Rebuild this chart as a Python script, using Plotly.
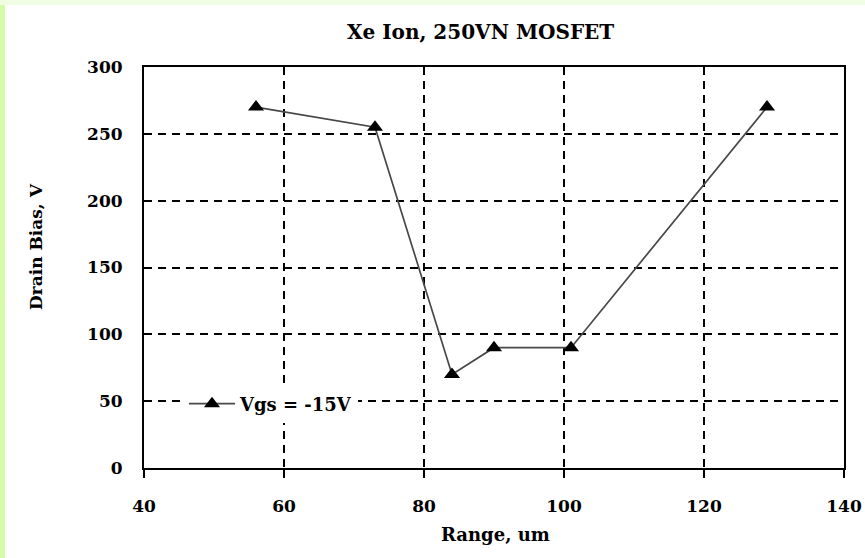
import plotly.graph_objects as go

range_um = [56, 73, 84, 90, 101, 129]
drain_bias_v = [270, 255, 70, 90, 90, 270]
series_name = "Vgs = -15V"
title_text = "Xe Ion, 250VN MOSFET"
x_title = "Range, um"
y_title = "Drain Bias, V"
x_ticks = [40, 60, 80, 100, 120, 140]
y_ticks = [0, 50, 100, 150, 200, 250, 300]

FONT = "DejaVu Serif"
W, H = 865, 558
L, R, T, B = 144, 21, 67, 90
PW = W - L - R
PH = H - T - B

fig = go.Figure()
fig.add_trace(go.Scatter(
    x=range_um, y=drain_bias_v, mode="lines+markers", name=f"<b>{series_name}</b>",
    line=dict(color="#484848", width=1.7),
    marker=dict(symbol="triangle-up", size=14, color="black"),
))

def px_x(p):
    return (p - L) / PW

def px_y(p):
    return (H - B - p) / PH

fig.update_layout(
    width=W, height=H,
    margin=dict(l=L, r=R, t=T, b=B, autoexpand=False),
    paper_bgcolor="white", plot_bgcolor="white",
    showlegend=True,
    legend=dict(x=px_x(184), y=px_y(404), xanchor="left", yanchor="middle",
                bgcolor="white", font=dict(family=FONT, size=18, color="black"),
                borderwidth=0, itemwidth=46),
    font=dict(family=FONT, color="black"),
)
fig.update_xaxes(
    range=[40, 140], tickvals=x_ticks, ticktext=[f"<b>{v}</b>" for v in x_ticks],
    showline=True, linecolor="black", linewidth=2, mirror=True,
    ticks="outside", ticklen=8, tickwidth=2, tickcolor="black",
    showgrid=True, gridcolor="black", gridwidth=1.5, griddash="8px,6px",
    zeroline=False, tickfont=dict(family=FONT, size=17, color="black"),
    ticklabelstandoff=14, automargin=False,
)
fig.update_yaxes(
    range=[0, 300], tickvals=y_ticks, ticktext=[f"<b>{v}</b>" for v in y_ticks],
    showline=True, linecolor="black", linewidth=2, mirror=True,
    ticks="inside", ticklen=6, tickwidth=2, tickcolor="black",
    showgrid=True, gridcolor="black", gridwidth=1.5, griddash="8px,6px",
    zeroline=False, tickfont=dict(family=FONT, size=17, color="black"),
    ticklabelstandoff=16, automargin=False,
)

annots = [
    dict(text=f"<b>{title_text}</b>", x=px_x(480), y=px_y(32), size=20, angle=0),
    dict(text=f"<b>{x_title}</b>", x=px_x(495), y=px_y(534), size=18, angle=0),
    dict(text=f"<b>{y_title}</b>", x=px_x(36), y=px_y(247), size=17, angle=-90),
]
for a in annots:
    fig.add_annotation(text=a["text"], x=a["x"], y=a["y"], xref="paper", yref="paper",
                       showarrow=False, textangle=a["angle"], xanchor="center", yanchor="middle",
                       font=dict(family=FONT, size=a["size"], color="black"))

# light green page border strips
fig.add_shape(type="rect", xref="paper", yref="paper", x0=px_x(0), x1=px_x(5),
              y0=px_y(H), y1=px_y(0), fillcolor="#d6fca8", line_width=0, layer="below")
fig.add_shape(type="rect", xref="paper", yref="paper", x0=px_x(0), x1=px_x(W),
              y0=px_y(5), y1=px_y(0), fillcolor="#f1fde2", line_width=0, layer="below")

fig.write_html("out.html")
